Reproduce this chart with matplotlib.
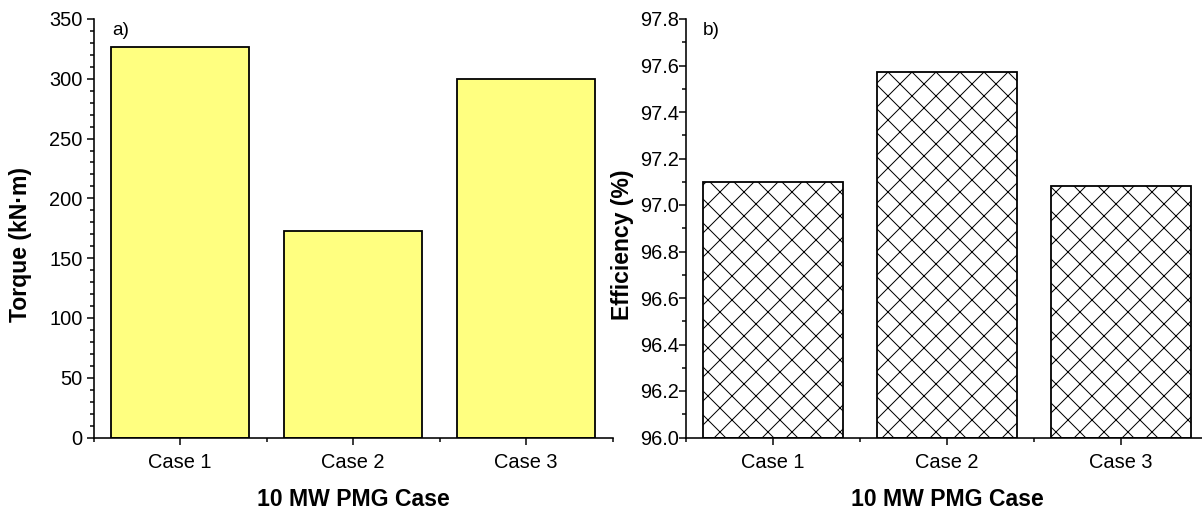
import matplotlib
matplotlib.use("Agg")
import matplotlib.pyplot as plt
from matplotlib.ticker import MultipleLocator, FixedLocator, FormatStrFormatter

plt.rcParams['font.family'] = ['Liberation Sans', 'DejaVu Sans']
plt.rcParams['hatch.linewidth'] = 1.0
plt.rcParams['hatch.color'] = 'black'

cases = ["Case 1", "Case 2", "Case 3"]
torque = [327, 173, 300]            # kN·m
efficiency = [97.10, 97.57, 97.08]  # %
xlabel = "10 MW PMG Case"

DPI = 72
W, H = 1202, 514
fig = plt.figure(figsize=(W / DPI, H / DPI), dpi=DPI)

def px_axes(x0, x1, ytop, ybot):
    return fig.add_axes([x0 / W, 1 - ybot / H, (x1 - x0) / W, (ybot - ytop) / H])

ax1 = px_axes(93.5, 612.5, 19, 437.5)
ax2 = px_axes(686, 1208, 19, 437.5)

pos = [1, 2, 3]

ax1.bar(pos, torque, width=0.8, color='#FFFF80', edgecolor='black', linewidth=1.8)
ax2.bar(pos, [e - 96.0 for e in efficiency], bottom=96.0, width=0.8, color='white',
        edgecolor='black', linewidth=1.8, hatch='x')

for ax in (ax1, ax2):
    ax.set_xlim(0.5, 3.5)
    ax.spines['top'].set_visible(False)
    ax.spines['right'].set_visible(False)
    for s in ('left', 'bottom'):
        ax.spines[s].set_linewidth(1.6)
    ax.xaxis.set_major_locator(FixedLocator(pos))
    ax.xaxis.set_minor_locator(FixedLocator([0.5, 1.5, 2.5, 3.5]))
    ax.set_xticklabels(cases)
    ax.tick_params(axis='both', which='major', direction='out', length=7, width=1.5,
                   labelsize=20, color='black')
    ax.tick_params(axis='both', which='minor', direction='out', length=4, width=1.5)
    ax.tick_params(axis='x', which='major', pad=9)
    ax.set_xlabel(xlabel, fontsize=23, fontweight='bold', labelpad=15)

ax1.set_ylim(0, 350)
ax1.yaxis.set_major_locator(MultipleLocator(50))
ax1.yaxis.set_minor_locator(MultipleLocator(10))
ax1.tick_params(axis='y', which='major', pad=4)
ax1.set_ylabel("Torque (kN·m)", fontsize=23, fontweight='bold')
ax1.yaxis.set_label_coords(-0.118, 0.46)

ax2.set_ylim(96.0, 97.8)
ax2.yaxis.set_major_locator(MultipleLocator(0.2))
ax2.yaxis.set_minor_locator(MultipleLocator(0.1))
ax2.yaxis.set_major_formatter(FormatStrFormatter('%.1f'))
ax2.tick_params(axis='y', which='major', pad=0)
ax2.set_ylabel("Efficiency (%)", fontsize=23, fontweight='bold')
ax2.yaxis.set_label_coords(-0.099, 0.46)

ax1.text(112 / W, 1 - 22 / H, "a)", transform=fig.transFigure, fontsize=19, va='top', ha='left')
ax2.text(703 / W, 1 - 22 / H, "b)", transform=fig.transFigure, fontsize=19, va='top', ha='left')

fig.savefig("out.png", dpi=DPI, facecolor='white')
